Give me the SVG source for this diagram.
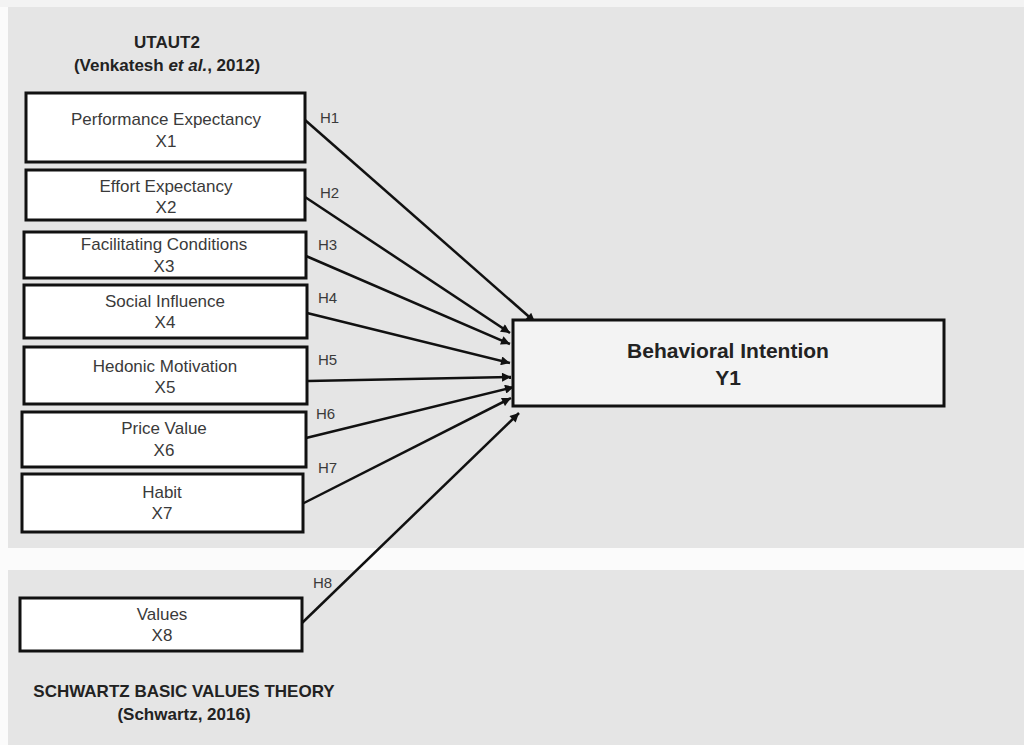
<svg xmlns="http://www.w3.org/2000/svg" width="1024" height="745" viewBox="0 0 1024 745">
<defs>
<style>
.panel{fill:#e5e5e5}
.box{fill:#ffffff;stroke:#111;stroke-width:3}
.ybox{fill:#f3f3f3;stroke:#111;stroke-width:3}
.t{font-family:"Liberation Sans",Arial,sans-serif;font-size:17px;fill:#3a3a3a;text-anchor:middle}
.h{font-family:"Liberation Sans",Arial,sans-serif;font-size:15px;fill:#3a3a3a}
.b{font-family:"Liberation Sans",Arial,sans-serif;font-size:17px;font-weight:bold;fill:#222;text-anchor:middle}
.conn line{stroke:#111;stroke-width:2.5;fill:none;marker-end:url(#ah)}
</style>
<marker id="ah" viewBox="0 0 10 10" refX="10" refY="5" markerWidth="11" markerHeight="9" markerUnits="userSpaceOnUse" orient="auto">
<path d="M0,0 L10,5 L0,10 z" fill="#111"/>
</marker>
</defs>
<rect x="0" y="0" width="1024" height="745" fill="#fbfbfb"/>
<rect x="0" y="0" width="1024" height="7" fill="#f3f3f3"/>
<rect class="panel" x="8" y="7" width="1016" height="541"/>
<rect class="panel" x="8" y="570" width="1016" height="175"/>

<g id="title-utaut2">
<text class="b" x="167" y="48">UTAUT2</text>
<text class="b" x="167" y="71">(Venkatesh <tspan font-style="italic">et al.</tspan>, 2012)</text>
</g>

<g id="title-schwartz">
<text class="b" x="184" y="697">SCHWARTZ BASIC VALUES THEORY</text>
<text class="b" x="184" y="720">(Schwartz, 2016)</text>
</g>

<g class="conn" id="connectors">
<line x1="305" y1="120" x2="535" y2="322"/>
<line x1="305" y1="197" x2="510" y2="333"/>
<line x1="306" y1="256" x2="510" y2="344"/>
<line x1="307" y1="313" x2="510" y2="363"/>
<line x1="308" y1="381" x2="511" y2="377"/>
<line x1="306" y1="438" x2="514" y2="387"/>
<line x1="300" y1="505" x2="511" y2="398"/>
<line x1="302" y1="623" x2="519" y2="413"/>
</g>

<g id="labels">
<text class="h" x="320" y="123">H1</text>
<text class="h" x="320" y="198">H2</text>
<text class="h" x="318" y="250">H3</text>
<text class="h" x="318" y="303">H4</text>
<text class="h" x="318" y="365">H5</text>
<text class="h" x="316" y="419">H6</text>
<text class="h" x="318" y="473">H7</text>
<text class="h" x="313" y="588">H8</text>
</g>

<g id="x1">
<rect class="box" x="26" y="93" width="279" height="69"/>
<text class="t" x="166" y="125">Performance Expectancy</text>
<text class="t" x="166" y="147">X1</text>
</g>
<g id="x2">
<rect class="box" x="26" y="170" width="279" height="50"/>
<text class="t" x="166" y="192">Effort Expectancy</text>
<text class="t" x="166" y="213">X2</text>
</g>
<g id="x3">
<rect class="box" x="24" y="232" width="282" height="46"/>
<text class="t" x="164" y="250">Facilitating Conditions</text>
<text class="t" x="164" y="272">X3</text>
</g>
<g id="x4">
<rect class="box" x="24" y="285" width="283" height="53"/>
<text class="t" x="165" y="307">Social Influence</text>
<text class="t" x="165" y="328">X4</text>
</g>
<g id="x5">
<rect class="box" x="24" y="347" width="283" height="57"/>
<text class="t" x="165" y="372">Hedonic Motivation</text>
<text class="t" x="165" y="393">X5</text>
</g>
<g id="x6">
<rect class="box" x="22" y="412" width="284" height="55"/>
<text class="t" x="164" y="434">Price Value</text>
<text class="t" x="164" y="456">X6</text>
</g>
<g id="x7">
<rect class="box" x="22" y="474" width="281" height="58"/>
<text class="t" x="162" y="498">Habit</text>
<text class="t" x="162" y="519">X7</text>
</g>
<g id="x8">
<rect class="box" x="20" y="598" width="282" height="53"/>
<text class="t" x="162" y="620">Values</text>
<text class="t" x="162" y="641">X8</text>
</g>
<g id="y1">
<rect class="ybox" x="513" y="320" width="431" height="86"/>
<text class="b" x="728" y="358" style="font-size:21px">Behavioral Intention</text>
<text class="b" x="728" y="385" style="font-size:21px">Y1</text>
</g>
</svg>
